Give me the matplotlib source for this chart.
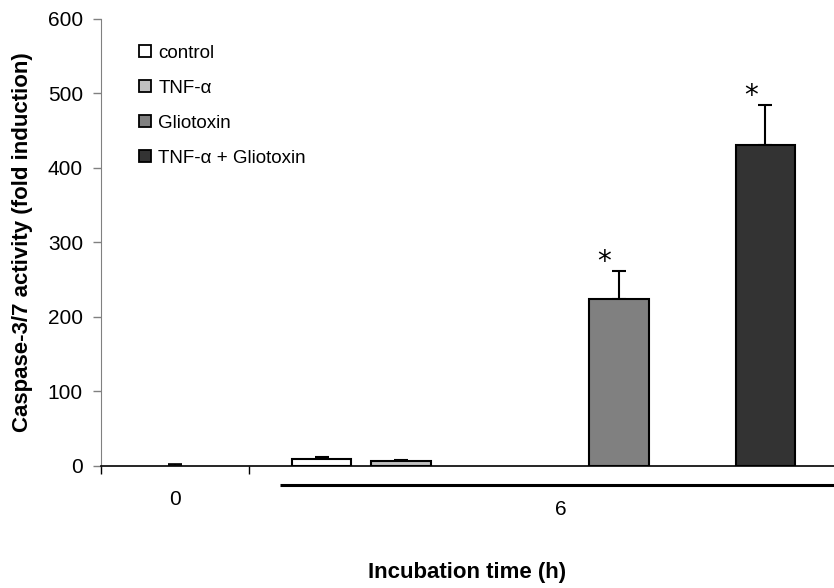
import numpy as np
import matplotlib
matplotlib.use("Agg")
import matplotlib.pyplot as plt
from matplotlib.lines import Line2D
import matplotlib.transforms as mtransforms

plt.rcParams['font.family'] = ['Liberation Sans', 'DejaVu Sans']

# data
labels = ["control", "TNF-\u03b1", "Gliotoxin", "TNF-\u03b1 + Gliotoxin"]
colors = ["#ffffff", "#c0c0c0", "#808080", "#333333"]
values_0h = [1]
errors_0h = [1.5]
values_6h = [9, 7, 224, 431]
errors_6h = [3, 1, 38, 54]
signif_6h = [False, False, True, True]
time_labels = ["0", "6"]

# layout (data x units)
x_0h = [0.5]
x_6h = [1.49, 2.03, 3.5, 4.49]
bar_w = 0.405

fig = plt.figure(figsize=(8.34, 5.88), dpi=100)
ax = fig.add_axes([0.1211, 0.2075, 0.8789, 0.7602])

ax.errorbar(x_0h, values_0h, yerr=[[0], errors_0h], fmt="none",
            ecolor="black", elinewidth=1.2, capsize=5, capthick=1.2)

ax.bar(x_6h, values_6h, width=bar_w, color=colors, edgecolor="black",
       linewidth=1.5, zorder=2)
ax.errorbar(x_6h, values_6h, yerr=[[0] * 4, errors_6h], fmt="none",
            ecolor="black", elinewidth=1.5, capsize=5, capthick=1.5, zorder=1)

for xi, v, e, s in zip(x_6h, values_6h, errors_6h, signif_6h):
    if s:
        ax.text(xi - 0.1, v + e + 12, "*", ha="center", va="center",
                fontsize=20, family="DejaVu Sans")

ax.set_xlim(0, 4.953)
ax.set_ylim(0, 600)
ax.set_yticks(np.arange(0, 601, 100))
ax.tick_params(axis="y", labelsize=15, length=6, width=1, color="#808080",
               pad=7)
ax.set_xticks([0, 1.0])
ax.set_xticklabels([])
ax.tick_params(axis="x", length=6, width=1)

ax.spines["top"].set_visible(False)
ax.spines["right"].set_visible(False)
ax.spines["left"].set_color("#808080")
ax.spines["bottom"].set_linewidth(1.2)

trans = mtransforms.blended_transform_factory(ax.transData, ax.transAxes)
ax.text(x_0h[0], -0.076, time_labels[0], transform=trans, ha="center",
        va="center", fontsize=15)
ax.text(3.11, -0.098, time_labels[1], transform=trans, ha="center",
        va="center", fontsize=15)
ax.plot([1.21, 4.953], [-0.043, -0.043], transform=trans, color="black",
        linewidth=2.2, clip_on=False, solid_capstyle="butt")

ax.set_xlabel("Incubation time (h)", fontsize=16, fontweight="bold")
ax.xaxis.set_label_coords(0.5, -0.215)
ax.set_ylabel("Caspase-3/7 activity (fold induction)", fontsize=16,
              fontweight="bold")
ax.yaxis.set_label_coords(-0.093, 0.5)

handles = [Line2D([], [], marker="s", linestyle="none", markersize=8,
                  markerfacecolor=c, markeredgecolor="black",
                  markeredgewidth=1.3) for c in colors]
ax.legend(handles, labels, loc="upper left", bbox_to_anchor=(0.027, 0.98),
          frameon=False, fontsize=13.5, handlelength=0.8, handletextpad=0.3,
          labelspacing=0.95)

fig.savefig("out.png", dpi=100)
